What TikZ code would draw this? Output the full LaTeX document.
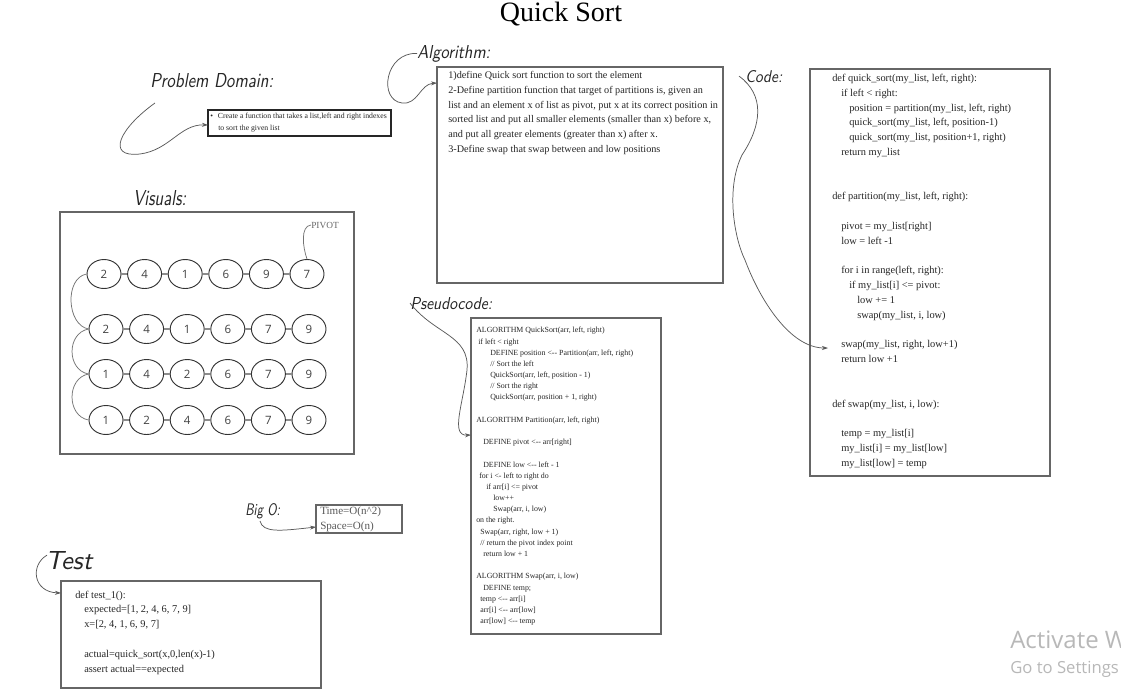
\documentclass[tikz,border=0pt]{standalone}
\usepackage{fontspec}
\setmainfont{Liberation Serif}
\newfontfamily\qsSansFont{Open Sans}
\usetikzlibrary{arrows.meta,calc,positioning,shapes.geometric}

\def\qsColGap{40.6}
\newcommand\qsIn[1]{\hspace*{\dimexpr#1pt*3/4\relax}}
\newcommand\qsHand[3]{\resizebox{\dimexpr#1pt*3/4\relax}{\dimexpr#2pt*3/4\relax}{\sffamily\slshape #3}}
\def\qsBlank{\mbox{}}

\tikzset{
    qsbox/.style={draw=black!60, line width=0.8pt, inner sep=0pt, outer sep=0pt, anchor=north west},
    boxwh/.style 2 args={minimum width={#1*0.75pt}, minimum height={#2*0.75pt}},
    hand/.style={inner sep=0pt, anchor=base west, text=black!85},
    swoop/.style={draw=black!65, line width=0.55pt, -{Stealth[length=4.5pt,width=3pt]}},
    swoopplain/.style={draw=black!55, line width=0.55pt},
    bodytext/.style={inner sep=0pt, anchor=north west, align=left, text=black!85,
        font=\fontsize{7.8}{11.1}\selectfont},
    smalltext/.style={bodytext, font=\fontsize{5.9}{8.39}\selectfont},
    elem/.style={ellipse, draw=black!80, line width=0.7pt, inner sep=0pt,
        minimum width={34*0.75pt}, minimum height={29*0.75pt},
        font=\qsSansFont\fontsize{8.6}{8.6}\selectfont, text=black!75},
    link/.style={draw=black!45, line width=1.4pt},
}

\begin{document}
\begin{tikzpicture}[x=0.75pt,y=-0.75pt]
            \path[use as bounding box, fill=white] (0,0) rectangle (1121,697);
            %% title
            \node[font=\fontsize{21}{21}\selectfont] (title) at (561,14) {Quick Sort};
            %% labels
            \node[hand] (lblProblem) at (150,87) {\qsHand{123}{14}{Problem Domain:}};
            \node[hand] (lblAlgo) at (417,58) {\qsHand{73}{13}{Algorithm:}};
            \node[hand] (lblCode) at (745,82) {\qsHand{37}{12}{Code:}};
            \node[hand] (lblVisuals) at (133,205) {\qsHand{53}{15}{Visuals:}};
            \node[hand] (lblPseudo) at (410,309) {\qsHand{82}{12}{Pseudocode:}};
            \node[hand] (lblBigO) at (245,515) {\qsHand{35}{12}{Big O:}};
            \node[hand] (lblTest) at (45,569) {\qsHand{47}{18}{Test}};
            %% boxes
            \node[qsbox, boxwh={183}{26}, draw=black!85] (probBox) at (208,110) {};
            \node[qsbox, boxwh={286}{216}] (algoBox) at (437,67) {};
            \node[qsbox, boxwh={240}{407}] (codeBox) at (810,69) {};
            \node[qsbox, boxwh={294}{242}] (visBox) at (60,212) {};
            \node[qsbox, boxwh={190}{316}] (pseudoBox) at (471,318) {};
            \node[qsbox, boxwh={86}{28}] (bigoBox) at (316,505) {};
            \node[qsbox, boxwh={260}{107}] (testBox) at (61,581) {};
            %% problem domain
            \node[bodytext, font=\fontsize{5.8}{9}\selectfont] (probText) at (210,113)
            {\textbullet\qsIn{5}Create a function that takes a list,left and right indexes\\
             \qsIn{8}to sort the given list};
            %% algorithm
            \node[bodytext, font=\fontsize{7.65}{11.1}\selectfont] (algoText) at (448,71)
            {1)define Quick sort function to sort the element\\
             2-Define partition function that target of partitions is, given an\\
             list and an element x of list as pivot, put x at its correct position in\\
             sorted list and put all smaller elements (smaller than x) before x,\\
             and put all greater elements (greater than x) after x.\\
             3-Define swap that swap between and low positions};
            %% code
            \node[bodytext] (codeText) at (832,74)
            {def quick\_sort(my\_list, left, right):\\
             \qsIn{9}if left < right:\\
             \qsIn{17}position = partition(my\_list, left, right)\\
             \qsIn{17}quick\_sort(my\_list, left, position-1)\\
             \qsIn{17}quick\_sort(my\_list, position+1, right)\\
             \qsIn{9}return my\_list\\
             \qsBlank\\
             \qsBlank\\
             def partition(my\_list, left, right):\\
             \qsBlank\\
             \qsIn{9}pivot = my\_list[right]\\
             \qsIn{9}low = left -1\\
             \qsBlank\\
             \qsIn{9}for i in range(left, right):\\
             \qsIn{17}if my\_list[i] <= pivot:\\
             \qsIn{25}low += 1\\
             \qsIn{25}swap(my\_list, i, low)\\
             \qsBlank\\
             \qsIn{9}swap(my\_list, right, low+1)\\
             \qsIn{9}return low +1\\
             \qsBlank\\
             \qsBlank\\
             def swap(my\_list, i, low):\\
             \qsBlank\\
             \qsIn{9}temp = my\_list[i]\\
             \qsIn{9}my\_list[i] = my\_list[low]\\
             \qsIn{9}my\_list[low] = temp};
            %% pseudocode
            \node[smalltext] (pseudoText) at (476,327)
            {ALGORITHM QuickSort(arr, left, right)\\
             \qsIn{2}if left < right\\
             \qsIn{14}DEFINE position <-{}- Partition(arr, left, right)\\
             \qsIn{14}// Sort the left\\
             \qsIn{14}QuickSort(arr, left, position - 1)\\
             \qsIn{14}// Sort the right\\
             \qsIn{14}QuickSort(arr, position + 1, right)\\
             \qsBlank\\
             ALGORITHM Partition(arr, left, right)\\
             \qsBlank\\
             \qsIn{7}DEFINE pivot <-{}- arr[right]\\
             \qsBlank\\
             \qsIn{7}DEFINE low <-{}- left - 1\\
             \qsIn{3}for i <- left to right do\\
             \qsIn{10}if arr[i] <= pivot\\
             \qsIn{17}low++\\
             \qsIn{17}Swap(arr, i, low)\\
             on the right.\\
             \qsIn{4}Swap(arr, right, low + 1)\\
             \qsIn{4}// return the pivot index point\\
             \qsIn{7}return low + 1\\
             \qsBlank\\
             ALGORITHM Swap(arr, i, low)\\
             \qsIn{7}DEFINE temp;\\
             \qsIn{4}temp <-{}- arr[i]\\
             \qsIn{4}arr[i] <-{}- arr[low]\\
             \qsIn{4}arr[low] <-{}- temp};
            %% big o
            \node[bodytext, font=\fontsize{8.3}{11.25}\selectfont, text=black!65] (bigoText) at (320,507)
            {Time=O(n\textasciicircum2)\\Space=O(n)};
            %% test
            \node[bodytext] (testText) at (75,590.5)
            {def test\_1():\\
             \qsIn{9}expected=[1, 2, 4, 6, 7, 9]\\
             \qsIn{9}x=[2, 4, 1, 6, 9, 7]\\
             \qsBlank\\
             \qsIn{9}actual=quick\_sort(x,0,len(x)-1)\\
             \qsIn{9}assert actual==expected};
            %% visuals: the four rows
            \foreach \r/\yy/\xx/\vals in {1/274/104/{2,4,1,6,9,7}, 2/329/106/{2,4,1,6,7,9},
                3/374/106/{1,4,2,6,7,9}, 4/420/106/{1,2,4,6,7,9}} {
                \foreach \v [count=\i, remember=\i as \j (initially 0)] in \vals {
                    \node[elem] (e-\r-\i) at ({\xx+(\i-1)*\qsColGap},\yy) {\v};
                    \ifnum\i>1 \draw[link] (e-\r-\j.east) -- (e-\r-\i.west); \fi
                }
            }
            \foreach \a/\b in {1/2, 2/3, 3/4}
                \draw[swoopplain] (e-\a-1.west) .. controls +(-22,4) and +(-22,-4) .. (e-\b-1.west);
            \node[anchor=west, inner sep=0pt, font=\fontsize{7}{7}\selectfont, text=black!60] (pivot) at (311,225) {PIVOT};
            \draw[swoopplain] (e-1-6.north) .. controls (303,248) and (300,226) .. (pivot.west);
            %% arrows from the labels
            \coordinate (codeSwap) at ($(codeBox.north west)+(18,279)$);
            \draw[swoop] ($(lblProblem.base west)+(5,16)$) .. controls (120,128) and (105,158) .. (140,154)
                .. controls (170,150) and (180,124) .. ($(probBox.north west)+(0,15)$);
            \draw[swoop] (lblAlgo.west) .. controls (385,52) and (378,100) .. (402,103)
                .. controls (418,105) and (420,84) .. ($(algoBox.north west)+(0,16)$);
            \draw[swoop] ($(lblCode.west)+(-6,0)$) .. controls (765,95) and (762,125) .. (742,155)
                .. controls (725,190) and (735,240) .. (745,260)
                .. controls (760,300) and (790,348) .. (codeSwap);
            \draw[swoop] (lblPseudo.west) .. controls (435,335) and (470,335) .. (467,370)
                .. controls (463,405) and (450,436) .. ($(pseudoBox.north west)+(0,117)$);
            \draw[swoop] ($(lblBigO.base west)+(15,6)$) .. controls (263,533) and (280,531) .. ($(bigoBox.north west)+(0,22)$);
            \draw[swoop] ($(lblTest.west)+(2,-5)$) .. controls (30,565) and (33,592) .. ($(testBox.north west)+(0,12)$);
            %% watermark
            \node[anchor=base west, inner sep=0pt, font=\qsSansFont\fontsize{18}{18}\selectfont, text=black!28] (wmActivate) at (1010,648) {Activate W};
            \node[anchor=base west, inner sep=0pt, font=\qsSansFont\fontsize{12.5}{12.5}\selectfont, text=black!28] (wmSettings) at (1010,673) {Go to Settings};
\end{tikzpicture}
\end{document}
